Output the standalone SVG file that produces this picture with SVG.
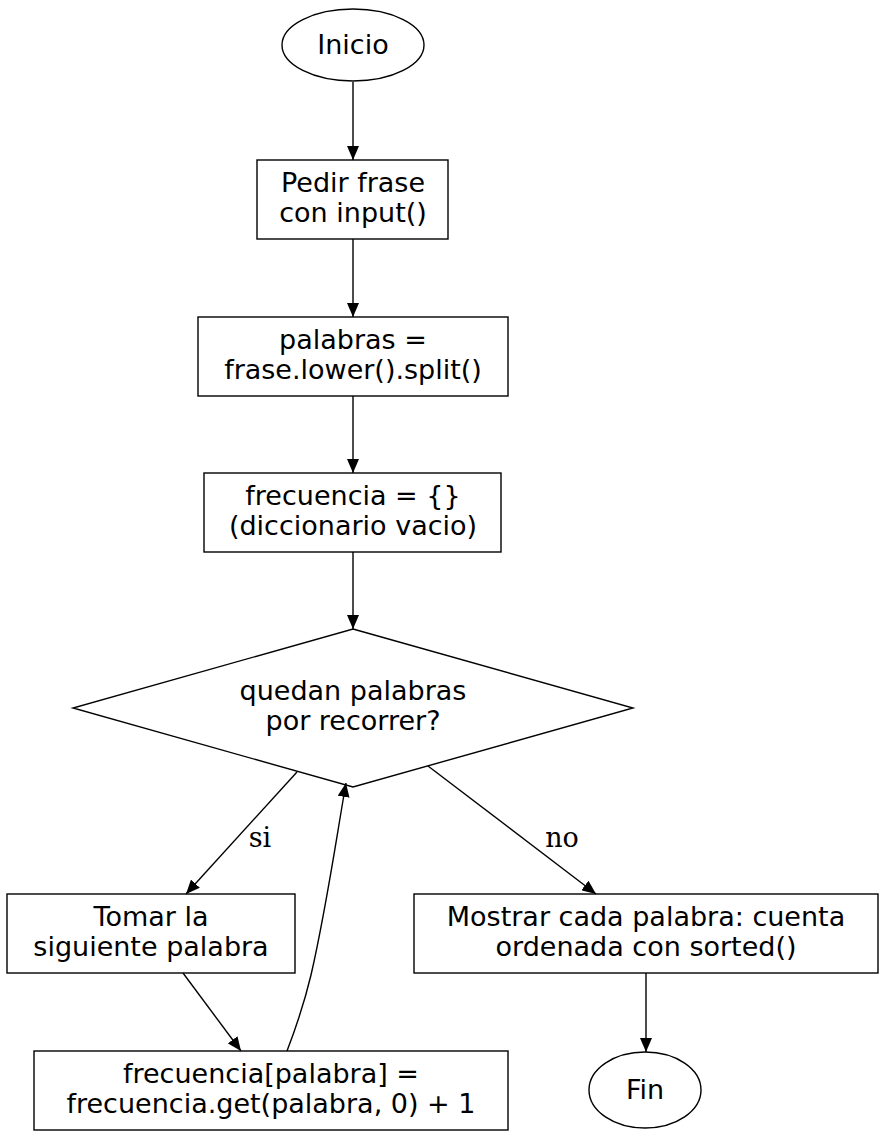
<svg xmlns="http://www.w3.org/2000/svg" width="881" height="1137" viewBox="0 0 881 1137">
<style>
.n{fill:#fff;stroke:#000;stroke-width:1.4}
.t{font-family:"DejaVu Sans",sans-serif;font-size:27px;text-anchor:middle;fill:#000}
.l{font-family:"DejaVu Serif","Liberation Serif",serif;font-size:27px;text-anchor:middle;fill:#000}
.e{fill:none;stroke:#000;stroke-width:1.4}
</style>
<defs><marker id="a" markerUnits="userSpaceOnUse" markerWidth="16" markerHeight="12" refX="14" refY="6" orient="auto"><path d="M0,0L14,6L0,12Z" fill="#000"/></marker></defs>
<rect width="881" height="1137" fill="#fff"/>
<g id="inicio"><ellipse class="n" cx="353" cy="45" rx="71" ry="36"/><text class="t" x="353" y="54">Inicio</text></g>
<g id="pedir"><rect class="n" x="257" y="160" width="191" height="79"/><text class="t" x="353" y="192">Pedir frase</text><text class="t" x="353" y="222">con input()</text></g>
<g id="palabras"><rect class="n" x="198" y="317" width="310" height="79"/><text class="t" x="353" y="349">palabras =</text><text class="t" x="353" y="379">frase.lower().split()</text></g>
<g id="frec"><rect class="n" x="204" y="473" width="297" height="79"/><text class="t" x="353" y="505">frecuencia = {}</text><text class="t" x="353" y="535">(diccionario vacio)</text></g>
<g id="dec"><polygon class="n" points="353,629 633,708 353,787 73,708"/><text class="t" x="353" y="700">quedan palabras</text><text class="t" x="353" y="730">por recorrer?</text></g>
<g id="tomar"><rect class="n" x="7" y="894" width="288" height="79"/><text class="t" x="151" y="926">Tomar la</text><text class="t" x="151" y="956">siguiente palabra</text></g>
<g id="inc"><rect class="n" x="34" y="1051" width="474" height="79"/><text class="t" x="271" y="1083">frecuencia[palabra] =</text><text class="t" x="271" y="1113">frecuencia.get(palabra, 0) + 1</text></g>
<g id="mostrar"><rect class="n" x="414" y="894" width="464" height="79"/><text class="t" x="646" y="926">Mostrar cada palabra: cuenta</text><text class="t" x="646" y="956">ordenada con sorted()</text></g>
<g id="fin"><ellipse class="n" cx="645" cy="1090" rx="56" ry="38"/><text class="t" x="645" y="1099">Fin</text></g>
<g id="edges">
<path class="e" marker-end="url(#a)" d="M353,82V160"/>
<path class="e" marker-end="url(#a)" d="M353,239V317"/>
<path class="e" marker-end="url(#a)" d="M353,396V473"/>
<path class="e" marker-end="url(#a)" d="M353,552V629"/>
<path class="e" marker-end="url(#a)" d="M297,772L186,894"/>
<text class="l" x="260" y="847">si</text>
<path class="e" marker-end="url(#a)" d="M183,973L241,1051"/>
<path class="e" marker-end="url(#a)" d="M287,1051C297,1025 305,1000 311,975C326,910 336,840 346,783"/>
<path class="e" marker-end="url(#a)" d="M428,766L596,894"/>
<text class="l" x="562" y="847">no</text>
<path class="e" marker-end="url(#a)" d="M646,973V1052"/>
</g>
</svg>
